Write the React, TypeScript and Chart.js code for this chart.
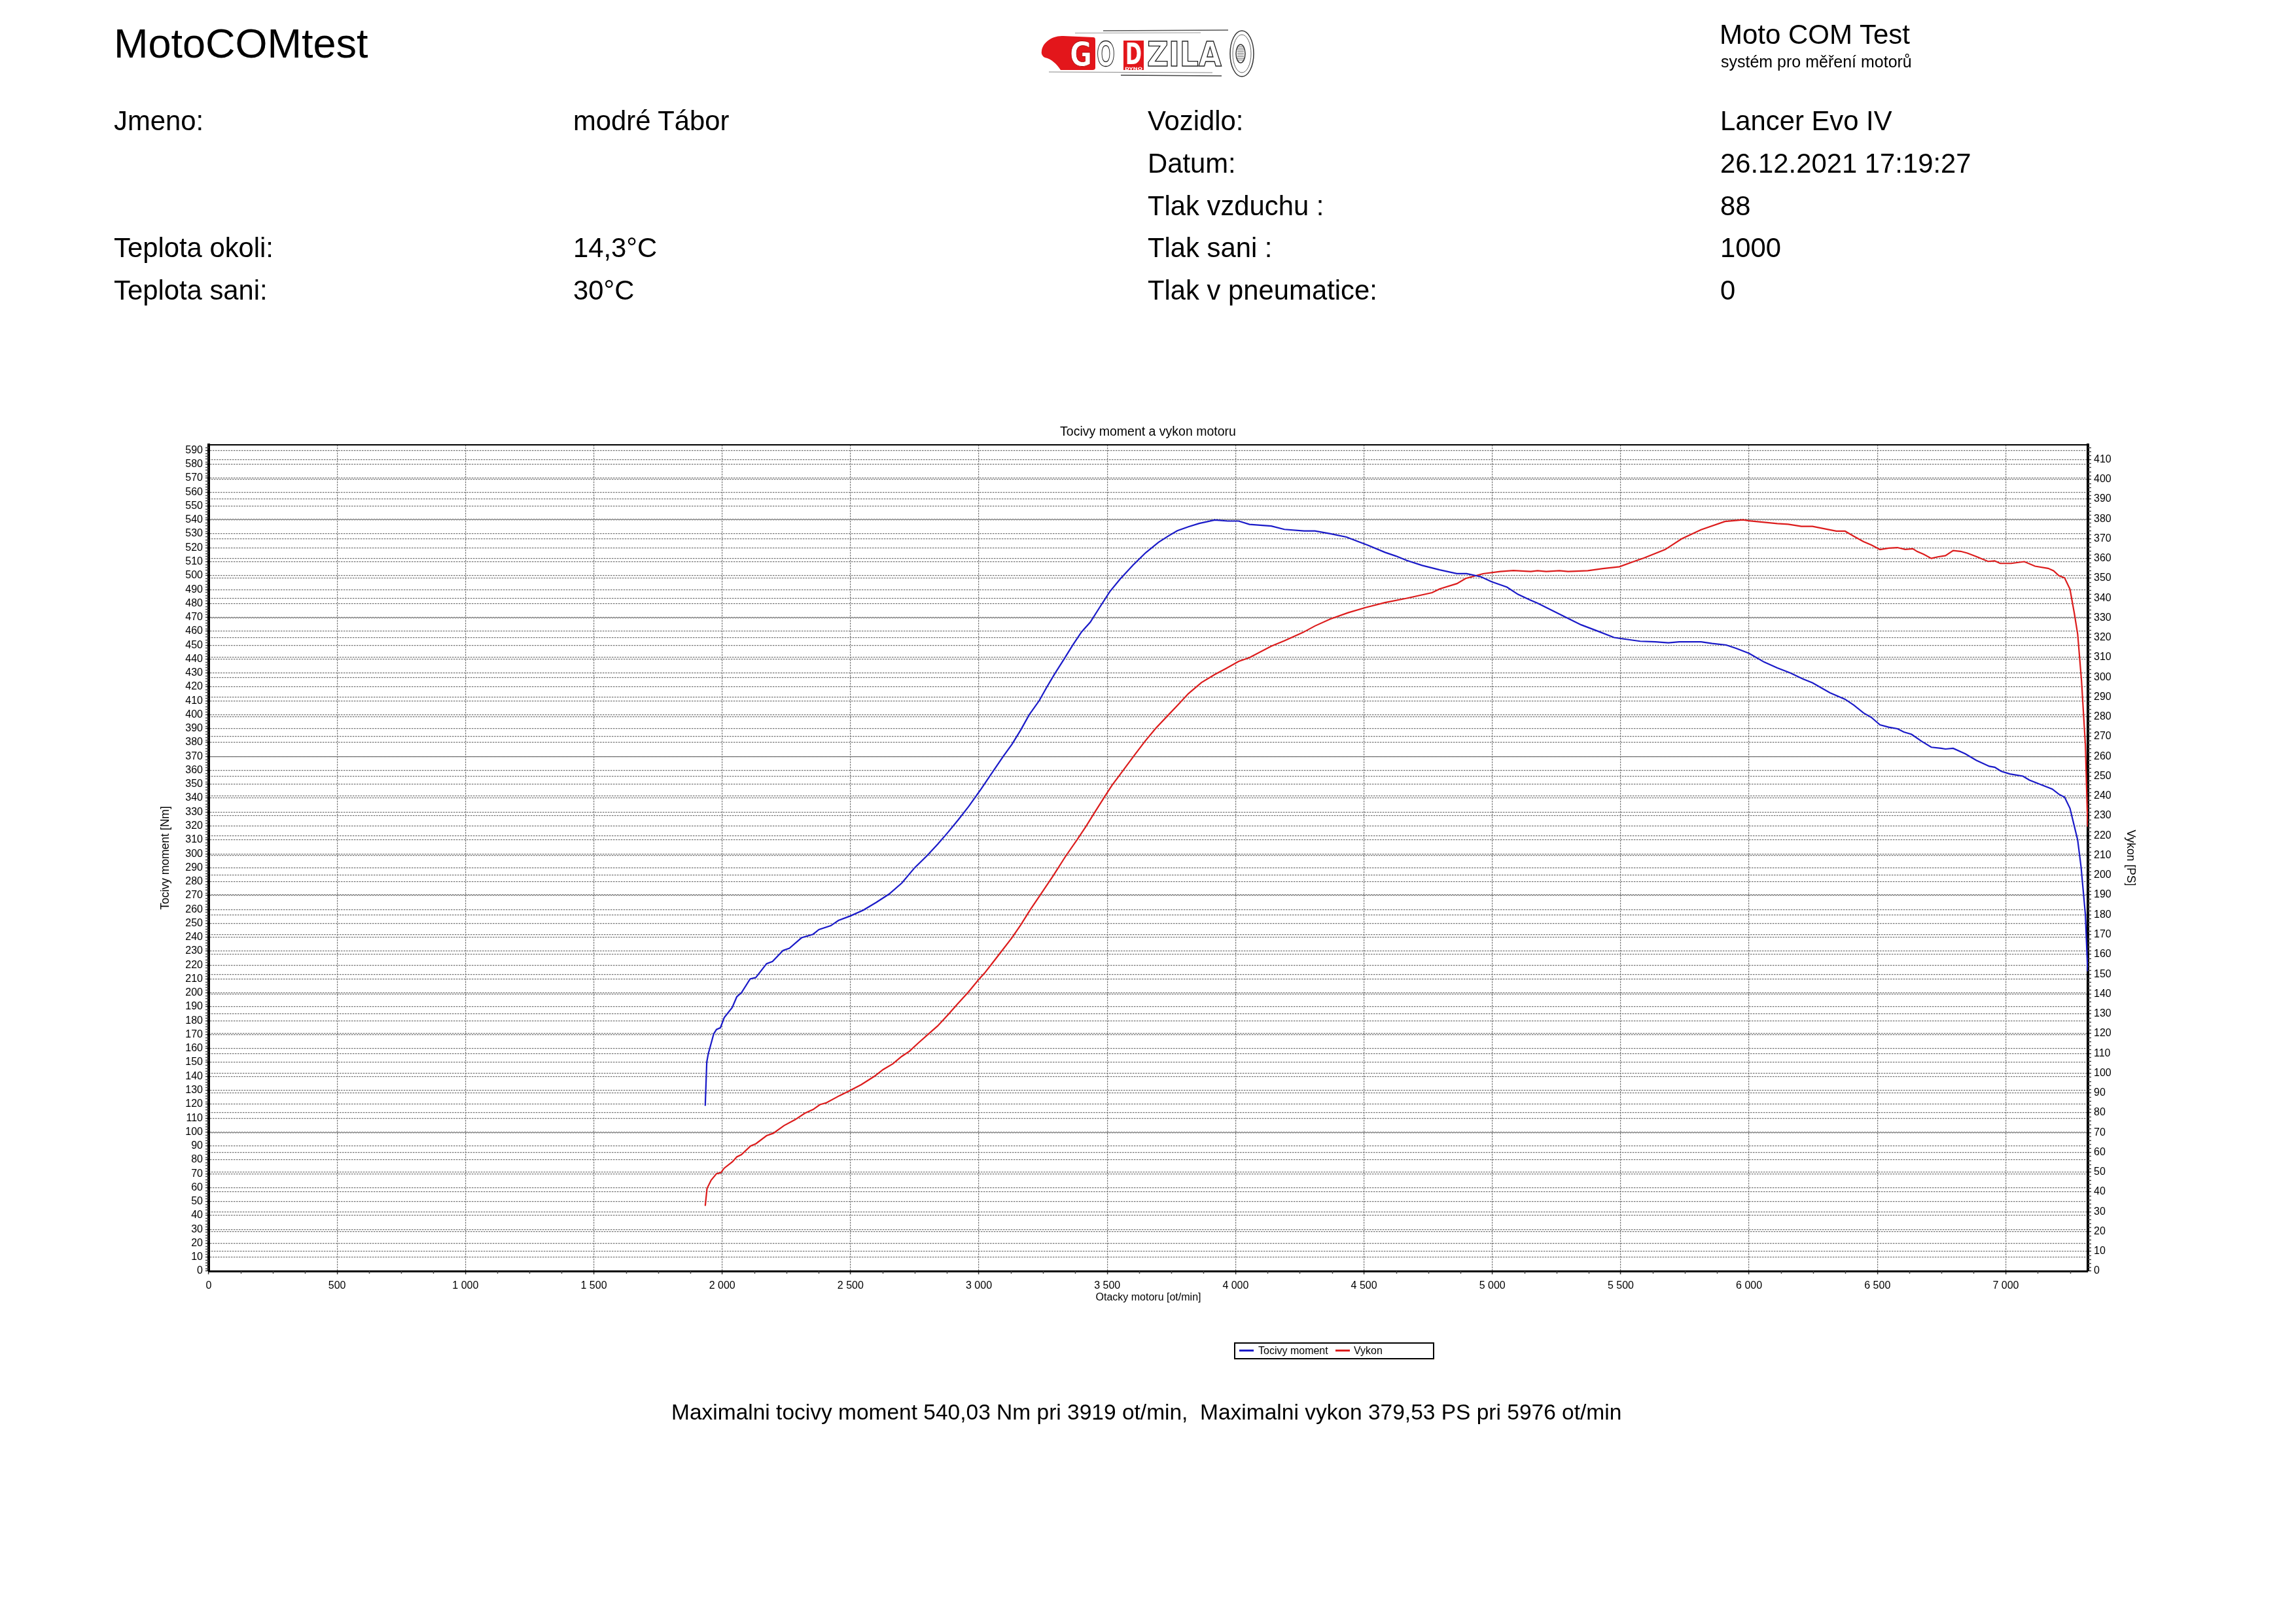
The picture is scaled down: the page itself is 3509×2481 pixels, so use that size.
import React, { useEffect, useRef } from "react";
import { Chart, registerables } from "chart.js";

Chart.register(...registerables);

const FONT = '"Liberation Sans", Arial, Helvetica, sans-serif';

// ---------- data ----------
const torqueRpm = [
  1934, 1940, 1946, 1967, 1978, 1993, 2008, 2039, 2057, 2075, 2109, 2131, 2173, 2196, 2237, 2262,
  2309, 2354, 2377, 2423, 2453, 2498, 2550, 2600, 2650, 2700, 2750, 2800, 2840, 2880, 2920, 2960,
  3009, 3052, 3095, 3129, 3163, 3196, 3235, 3264, 3294, 3332, 3366, 3400, 3434, 3470, 3510, 3550,
  3600, 3650, 3700, 3741, 3773, 3816, 3858, 3919, 3970, 4012, 4054, 4139, 4190, 4267, 4309, 4369,
  4432, 4480, 4514, 4582, 4625, 4667, 4727, 4795, 4862, 4900, 4956, 4997, 5057, 5100, 5146, 5176,
  5218, 5278, 5346, 5413, 5474, 5499, 5576, 5635, 5686, 5728, 5813, 5856, 5911, 5949, 6000, 6059,
  6110, 6161, 6209, 6247, 6315, 6374, 6408, 6446, 6476, 6510, 6544, 6578, 6603, 6633, 6671, 6710,
  6748, 6765, 6795, 6842, 6885, 6936, 6957, 6982, 7016, 7067, 7092, 7139, 7181, 7207, 7229, 7250,
  7280, 7293, 7310, 7319,
];
const torqueNm = [
  118.8, 150.2, 156.3, 170.5, 173.7, 174.9, 182.2, 189.4, 197.2, 200.1, 210.0, 211.0, 221.0, 222.6, 230.5, 232.1,
  239.6, 242.1, 245.5, 248.3, 252.1, 255.2, 259.5, 265.0, 271.0, 279.0, 290.0, 299.0, 307.0, 315.5, 324.5, 334.0,
  346.7, 358.4, 370.1, 378.8, 389.0, 399.9, 410.1, 419.6, 429.0, 440.0, 450.1, 459.5, 466.5, 477.0, 488.5, 497.5,
  507.5, 516.5, 524.0, 528.8, 532.3, 535.1, 537.5, 540.0, 539.2, 539.2, 536.8, 535.6, 533.2, 532.1, 532.1, 530.1,
  527.7, 524.3, 521.9, 516.7, 514.0, 510.9, 507.3, 504.1, 501.4, 501.4, 499.1, 495.6, 491.7, 486.5, 482.5, 480.2,
  476.3, 470.8, 464.6, 459.9, 455.5, 454.8, 452.8, 452.4, 451.7, 452.4, 452.4, 451.2, 450.1, 447.7, 444.1, 437.8,
  433.6, 430.0, 425.7, 422.9, 415.8, 411.1, 406.9, 401.2, 398.1, 392.7, 391.0, 389.9, 387.5, 385.9, 381.0, 376.6,
  375.8, 375.3, 375.8, 371.9, 367.2, 362.9, 362.2, 359.3, 357.4, 355.8, 353.0, 349.6, 346.5, 342.8, 340.7, 332.7,
  309.9, 291.0, 256.5, 215.5,
];
const powerRpm = [
  1934, 1941, 1957, 1978, 1995, 2008, 2040, 2057, 2075, 2111, 2131, 2173, 2199, 2241, 2283, 2322,
  2354, 2381, 2406, 2457, 2498, 2542, 2593, 2627, 2665, 2699, 2729, 2763, 2805, 2839, 2882, 2915,
  2958, 3000, 3022, 3052, 3086, 3129, 3163, 3201, 3239, 3290, 3336, 3383, 3417, 3451, 3489, 3519,
  3544, 3604, 3646, 3689, 3740, 3773, 3816, 3867, 3919, 3961, 4012, 4054, 4139, 4190, 4262, 4309,
  4369, 4438, 4506, 4582, 4667, 4765, 4795, 4862, 4896, 4964, 5031, 5082, 5150, 5176, 5210, 5261,
  5295, 5372, 5431, 5495, 5550, 5592, 5673, 5737, 5813, 5906, 5976, 6000, 6110, 6152, 6204, 6247,
  6298, 6340, 6374, 6408, 6446, 6476, 6510, 6544, 6578, 6608, 6638, 6655, 6680, 6710, 6735, 6765,
  6795, 6824, 6850, 6885, 6931, 6957, 6978, 7021, 7072, 7114, 7165, 7186, 7207, 7229, 7250, 7267,
  7280, 7295, 7310, 7319,
];
const powerPs = [
  32.9, 41.7, 45.9, 49.2, 49.7, 52.0, 55.2, 57.7, 58.8, 63.2, 64.3, 68.4, 69.6, 73.5, 76.4, 79.7,
  81.6, 84.1, 85.0, 88.6, 91.2, 94.2, 98.4, 101.8, 104.7, 108.4, 111.0, 115.1, 119.9, 123.8, 129.8, 134.7,
  140.8, 147.4, 150.5, 155.5, 161.2, 168.4, 174.9, 182.7, 190.0, 199.8, 209.2, 218.0, 224.6, 231.7, 239.5, 245.5,
  249.8, 260.3, 267.5, 274.2, 281.2, 285.7, 291.7, 297.3, 301.4, 304.3, 308.0, 309.9, 315.7, 318.4, 322.6, 325.9,
  329.4, 332.6, 335.2, 337.7, 339.9, 342.7, 344.6, 347.3, 349.9, 352.3, 353.4, 353.9, 353.4, 353.8, 353.4, 353.8,
  353.4, 353.8, 354.9, 355.8, 358.4, 360.3, 364.5, 369.9, 374.5, 378.7, 379.53, 379.0, 377.6, 377.3, 376.2, 376.2,
  374.9, 373.8, 373.8, 371.2, 368.5, 366.8, 364.5, 365.2, 365.5, 364.6, 364.9, 363.5, 362.1, 360.0, 360.8, 361.4,
  364.0, 363.6, 362.7, 361.0, 358.5, 358.8, 357.5, 357.5, 358.4, 356.1, 355.0, 353.8, 351.3, 350.2, 344.5, 332.3,
  321.8, 298.2, 266.1, 224.5,
];

const rpmTicks = [0, 500, 1000, 1500, 2000, 2500, 3000, 3500, 4000, 4500, 5000, 5500, 6000, 6500, 7000];
const rpmMax = 7320;
const nmMax = 594;
const psMax = 417.4;
const rpmStep = 500;
const rpmMinorStep = 125;
const valueStep = 10;
const valueMinorStep = 2;

const chartTitle = "Tocivy moment a vykon motoru";
const xTitle = "Otacky motoru [ot/min]";
const yTitle = "Tocivy moment [Nm]";
const y1Title = "Vykon [PS]";
const seriesNames = ["Tocivy moment", "Vykon"];
const seriesColors = ["#1a1ac8", "#dc1c1c"];

const appTitle = "MotoCOMtest";
const brandTitle = "Moto COM Test";
const brandSub = "systém pro měření motorů";
const leftLabels = ["Jmeno:", "", "", "Teplota okoli:", "Teplota sani:"];
const leftValues = ["modré Tábor", "", "", "14,3°C", "30°C"];
const rightLabels = ["Vozidlo:", "Datum:", "Tlak vzduchu :", "Tlak sani :", "Tlak v pneumatice:"];
const rightValues = ["Lancer Evo IV", "26.12.2021 17:19:27", "88", "1000", "0"];
const footerText =
  "Maximalni tocivy moment 540,03 Nm pri 3919 ot/min,  Maximalni vykon 379,53 PS pri 5976 ot/min";

// ---------- layout ----------
const W = 3509;
const H = 2481;
const rowBase = [199, 264, 329, 393, 458];
const GRID = "rgba(110,110,110,0.95)";

function fmtRpm(v: number): string {
  if (v >= 1000) {
    const th = Math.floor(v / 1000);
    const rest = String(Math.round(v % 1000)).padStart(3, "0");
    return th + " " + rest;
  }
  return String(v);
}

function Txt(props: { x: number; base: number; size: number; text: string; color?: string }) {
  const { x, base, size, text, color } = props;
  return (
    <div
      style={{
        position: "absolute",
        left: x,
        top: base - 0.8465 * size,
        fontSize: size,
        lineHeight: size + "px",
        fontFamily: FONT,
        whiteSpace: "pre",
        color: color || "#000",
      }}
    >
      {text}
    </div>
  );
}

function Logo() {
  const red = "#e3161b";
  const lf = '"DejaVu Sans Condensed", "DejaVu Sans", sans-serif';
  const hatch = [];
  for (let i = 0; i < 9; i++) {
    const y = 33 + i * 2.6;
    hatch.push(<line key={i} x1={306} y1={y} x2={316} y2={y} stroke="#444" strokeWidth={0.8} />);
  }
  return (
    <svg style={{ position: "absolute", left: 1585, top: 38 }} width={340} height={92} viewBox="0 0 340 92">
      <line x1={101} y1={9} x2={292} y2={8} stroke="#555" strokeWidth={1.5} />
      <line x1={58} y1={12.5} x2={250} y2={12} stroke="#999" strokeWidth={1} />
      <line x1={18} y1={72} x2={268} y2={73} stroke="#888" strokeWidth={1} />
      <line x1={128} y1={77} x2={282} y2={78} stroke="#444" strokeWidth={1.5} />
      <path
        d="M7 40 C8 28 22 16 40 17 L86 19 C89 19 89 22 89 24 L89 66 C89 68 87 69 85 69 L36 69 C30 60 22 52 12 50 C8 48 6 44 7 40 Z"
        fill={red}
      />
      <text x={50} y={63} fontFamily={lf} fontWeight="bold" fontSize={52} fill="#fff" stroke="#a00" strokeWidth={0.8} textLength={34} lengthAdjust="spacingAndGlyphs">
        G
      </text>
      <text x={91} y={63} fontFamily={lf} fontWeight="bold" fontSize={52} fill="#fff" stroke="#222" strokeWidth={1.3} textLength={28} lengthAdjust="spacingAndGlyphs">
        O
      </text>
      <rect x={132} y={24} width={31} height={39} fill={red} />
      <text x={135} y={60} fontFamily={lf} fontWeight="bold" fontSize={44} fill="#fff" textLength={25} lengthAdjust="spacingAndGlyphs">
        D
      </text>
      <rect x={132} y={63} width={31} height={6} fill={red} />
      <text x={134} y={68.5} fontFamily={lf} fontWeight="bold" fontSize={6} fill="#fff" textLength={27} lengthAdjust="spacingAndGlyphs">
        DYNO
      </text>
      <text x={168} y={63} fontFamily={lf} fontWeight="bold" fontSize={52} fill="#fff" stroke="#222" strokeWidth={1.3} textLength={114} lengthAdjust="spacingAndGlyphs">
        ZILA
      </text>
      <ellipse cx={313} cy={44} rx={18} ry={35} fill="none" stroke="#333" strokeWidth={1.5} />
      <ellipse cx={313} cy={44} rx={14} ry={29} fill="none" stroke="#666" strokeWidth={1} />
      <ellipse cx={311} cy={44} rx={7} ry={14} fill="#fff" stroke="#333" strokeWidth={1.5} />
      {hatch}
    </svg>
  );
}

const decorPlugin = {
  id: "decor",
  afterDraw(chart: any) {
    const { ctx, chartArea, scales } = chart;
    ctx.save();
    ctx.strokeStyle = "#444";
    ctx.lineWidth = 1.5;
    ctx.beginPath();
    for (let v = rpmMinorStep; v < rpmMax; v += rpmMinorStep) {
      if (v % rpmStep === 0) continue;
      const x = Math.round(scales.x.getPixelForValue(v)) + 0.5;
      ctx.moveTo(x, chartArea.bottom);
      ctx.lineTo(x, chartArea.bottom + 4);
    }
    for (let v = valueMinorStep; v < nmMax; v += valueMinorStep) {
      if (v % valueStep === 0) continue;
      const y = Math.round(scales.y.getPixelForValue(v)) + 0.5;
      ctx.moveTo(chartArea.left - 5, y);
      ctx.lineTo(chartArea.left, y);
    }
    for (let v = valueMinorStep; v < psMax; v += valueMinorStep) {
      if (v % valueStep === 0) continue;
      const y = Math.round(scales.y1.getPixelForValue(v)) + 0.5;
      ctx.moveTo(chartArea.right, y);
      ctx.lineTo(chartArea.right + 5, y);
    }
    ctx.stroke();
    ctx.strokeStyle = "#000";
    ctx.lineWidth = 2;
    ctx.beginPath();
    ctx.moveTo(chartArea.left, chartArea.top);
    ctx.lineTo(chartArea.right, chartArea.top);
    ctx.stroke();
    ctx.restore();
  },
};

export default function App() {
  const canvasRef = useRef<HTMLCanvasElement | null>(null);

  useEffect(() => {
    document.body.style.margin = "0";
    const canvas = canvasRef.current;
    if (!canvas) return;
    const tickFont = { family: FONT, size: 16 };
    const gridCommon = {
      color: GRID,
      lineWidth: 1.2,
      tickLength: 5,
      tickColor: "#333",
      tickWidth: 1.5,
    };
    const chart = new Chart(canvas, {
      type: "line",
      data: {
        datasets: [
          {
            label: seriesNames[0],
            data: torqueRpm.map((x, i) => ({ x, y: torqueNm[i] })),
            yAxisID: "y",
            borderColor: seriesColors[0],
            backgroundColor: seriesColors[0],
            borderWidth: 2.2,
            pointRadius: 0,
            tension: 0,
            fill: false,
          },
          {
            label: seriesNames[1],
            data: powerRpm.map((x, i) => ({ x, y: powerPs[i] })),
            yAxisID: "y1",
            borderColor: seriesColors[1],
            backgroundColor: seriesColors[1],
            borderWidth: 2.2,
            pointRadius: 0,
            tension: 0,
            fill: false,
          },
        ],
      },
      options: {
        animation: false,
        responsive: false,
        maintainAspectRatio: false,
        devicePixelRatio: 1,
        events: [],
        layout: { padding: { left: 230, right: 230, top: 600, bottom: 488 } },
        plugins: {
          legend: { display: false },
          tooltip: { enabled: false },
          title: {
            display: true,
            text: chartTitle,
            color: "#000",
            font: { family: FONT, size: 19.5, weight: "normal" },
            padding: { top: 48.5, bottom: 8.1 },
          },
        },
        scales: {
          x: {
            type: "linear",
            position: "bottom",
            min: 0,
            max: rpmMax,
            afterFit: (s: any) => {
              s.height = 50;
            },
            afterBuildTicks: (s: any) => {
              s.ticks = rpmTicks.map((v) => ({ value: v }));
            },
            ticks: {
              stepSize: rpmStep,
              includeBounds: false,
              autoSkip: false,
              maxRotation: 0,
              minRotation: 0,
              color: "#000",
              font: tickFont,
              padding: 8,
              callback: (v: any) => fmtRpm(Number(v)),
            },
            grid: gridCommon,
            border: { display: true, color: "#000", width: 3, dash: [2.5, 1.5] },
            title: { display: true, text: xTitle, color: "#000", font: { family: FONT, size: 16 }, padding: { top: 0, bottom: 0 } },
          },
          y: {
            type: "linear",
            position: "left",
            min: 0,
            max: nmMax,
            afterFit: (s: any) => {
              s.width = 89;
            },
            ticks: {
              stepSize: valueStep,
              includeBounds: false,
              autoSkip: false,
              color: "#000",
              font: tickFont,
              padding: 4,
            },
            grid: gridCommon,
            border: { display: true, color: "#000", width: 4, dash: [2.5, 1.5] },
            title: { display: true, text: yTitle, color: "#000", font: { family: FONT, size: 17.5 }, padding: { top: 12.5, bottom: 0 } },
          },
          y1: {
            type: "linear",
            position: "right",
            min: 0,
            max: psMax,
            afterFit: (s: any) => {
              s.width = 88;
            },
            ticks: {
              stepSize: valueStep,
              includeBounds: false,
              autoSkip: false,
              color: "#000",
              font: tickFont,
              padding: 4,
            },
            grid: gridCommon,
            border: { display: true, color: "#000", width: 4, dash: [2.5, 1.5] },
            title: { display: true, text: y1Title, color: "#000", font: { family: FONT, size: 17.5 }, padding: { top: 12.5, bottom: 0 } },
          },
        },
      } as any,
      plugins: [decorPlugin],
    });
    return () => chart.destroy();
  }, []);

  return (
    <div style={{ position: "absolute", left: 0, top: 0, width: W, height: H, background: "#fff", overflow: "hidden" }}>
      <canvas ref={canvasRef} width={W} height={H} style={{ position: "absolute", left: 0, top: 0, width: W, height: H }} />
      <Txt x={174} base={88} size={63} text={appTitle} />
      <Logo />
      <Txt x={2628} base={68} size={42} text={brandTitle} />
      <Txt x={2630} base={103} size={25} text={brandSub} />
      {leftLabels.map((t, i) => (t ? <Txt key={"ll" + i} x={174} base={rowBase[i]} size={41.8} text={t} /> : null))}
      {leftValues.map((t, i) => (t ? <Txt key={"lv" + i} x={876} base={rowBase[i]} size={41.8} text={t} /> : null))}
      {rightLabels.map((t, i) => (t ? <Txt key={"rl" + i} x={1754} base={rowBase[i]} size={41.8} text={t} /> : null))}
      {rightValues.map((t, i) => (t ? <Txt key={"rv" + i} x={2629} base={rowBase[i]} size={41.8} text={t} /> : null))}
      <div
        style={{
          position: "absolute",
          left: 1886,
          top: 2052,
          width: 306,
          height: 26,
          border: "2px solid #000",
          boxSizing: "border-box",
        }}
      />
      <div style={{ position: "absolute", left: 1894, top: 2063, width: 22, height: 3, background: seriesColors[0] }} />
      <Txt x={1923} base={2071} size={16} text={seriesNames[0]} />
      <div style={{ position: "absolute", left: 2041, top: 2063, width: 22, height: 3, background: seriesColors[1] }} />
      <Txt x={2069} base={2071} size={16} text={seriesNames[1]} />
      <Txt x={1026} base={2170} size={33.5} text={footerText} />
    </div>
  );
}
